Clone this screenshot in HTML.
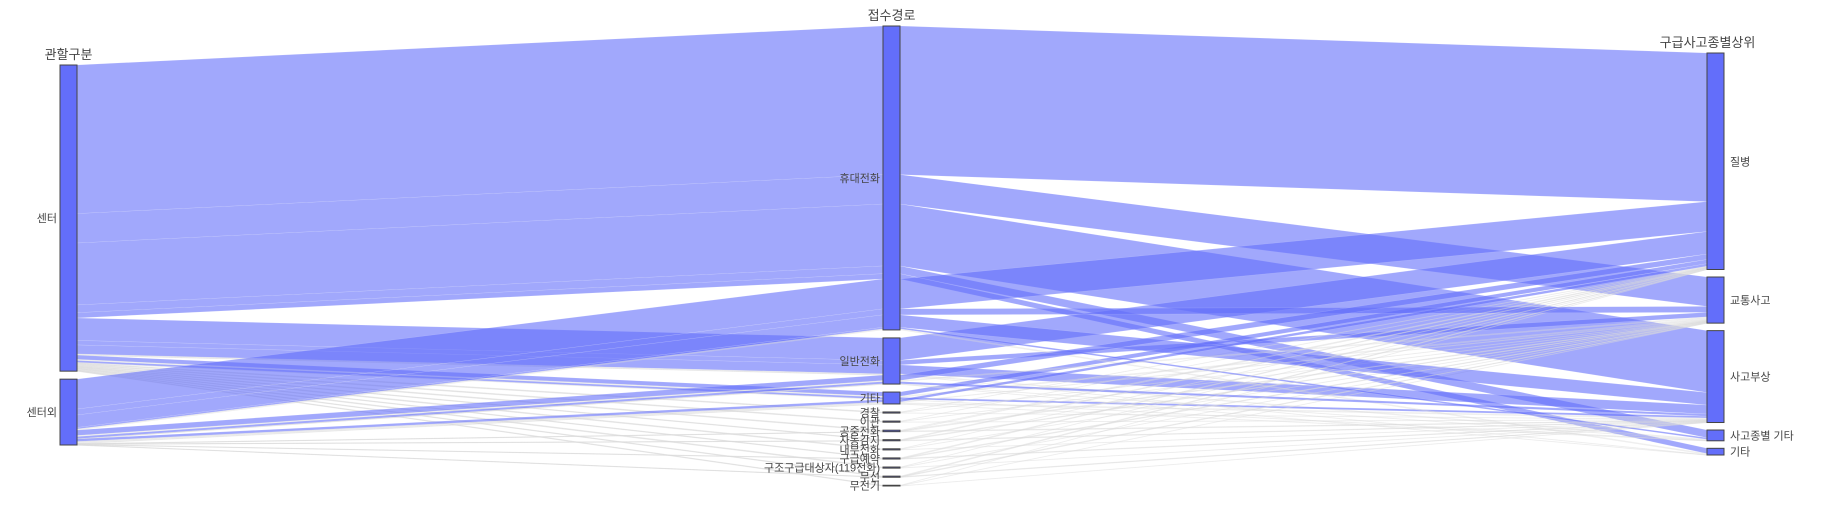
<!DOCTYPE html>
<html><head><meta charset="utf-8">
<style>
html,body{margin:0;padding:0;background:#fff;}
svg{display:block;font-family:"Liberation Sans","Noto Sans CJK KR",sans-serif;}
</style></head>
<body>
<svg id="chart" width="1835" height="528" viewBox="0 0 1835 528" xmlns="http://www.w3.org/2000/svg">
<g id="bands"></g>
<g id="bars"></g>
</svg>
<script>
// ---- data ----
const dimTitles = ["관할구분","접수경로","구급사고종별상위"];
const leftCats = ["센터","센터외"];
const midCats = ["휴대전화","일반전화","기타","경찰","이관","공중전화","자동감지","내부전화","구급예약","구조구급대상자(119전화)","무선","무전기"];
const rightCats = ["질병","교통사고","사고부상","사고종별 기타","기타"];
// flows left -> middle (rows: leftCats, cols: midCats)
const flowCenter =   [680,100,20,3,3,3,2,3,2,3,2,2];
const flowOutside =  [137,24,12,0,0,1,1,0,1,0,1,0];
// flows middle -> right (rows: midCats, cols: rightCats)
const flowPhone =    [480,95,200,25,17];
const flowLandline = [75,15,30,3,1];
const flowEtc =      [18,5,8,1,0];
const flowSmall =    [1,1,1,0,0];

const LM = [flowCenter, flowOutside];
const MR = [flowPhone, flowLandline, flowEtc].concat(midCats.slice(3).map(()=>flowSmall.slice()));
const midTot = midCats.map((c,m)=>LM[0][m]+LM[1][m]);
for(let m=0;m<midCats.length;m++){
  const s = MR[m].reduce((a,b)=>a+b,0);
  MR[m] = MR[m].map(v=>s? v*midTot[m]/s : 0);
}
// ---- layout ----
const SC = 0.372;
const dims = [
  {x:60, w:17, top:65, gap:8, cats:leftCats},
  {x:883, w:17, top:26, gap:8, cats:midCats},
  {x:1707, w:17, top:53, gap:7.5, cats:rightCats}
];
const paths=[];
for(let l=0;l<2;l++)for(let m=0;m<midCats.length;m++)for(let r=0;r<rightCats.length;r++){
  const v = midTot[m]? LM[l][m]*MR[m][r]/midTot[m]:0;
  if(v>0) paths.push({l,m,r,v});
}
const tot = [leftCats.map((c,i)=>paths.filter(p=>p.l===i).reduce((a,p)=>a+p.v,0)),
             midTot,
             rightCats.map((c,i)=>paths.filter(p=>p.r===i).reduce((a,p)=>a+p.v,0))];
const catY = dims.map((d,di)=>{let y=d.top;return tot[di].map(t=>{const o={y0:y,h:t*SC};y+=t*SC+d.gap;return o;});});
const NS="http://www.w3.org/2000/svg";
function el(t,a,p){const e=document.createElementNS(NS,t);for(const k in a)e.setAttribute(k,a[k]);p.appendChild(e);return e;}
function stack(list, catIdx, key, di, sortFn){
  const off={};
  list.slice().sort(sortFn).forEach(p=>{
    const c=p[catIdx]; off[c]=off[c]||0;
    p[key]=catY[di][c].y0+off[c]; off[c]+=p.v*SC;
  });
}
stack(paths,'l','yL',0,(a,b)=>a.m-b.m||a.r-b.r);
stack(paths,'m','yM',1,(a,b)=>a.l-b.l||a.r-b.r);
stack(paths,'r','yR',2,(a,b)=>a.m-b.m||a.l-b.l);
const bands=document.getElementById('bands');
function band(x1,y1,x2,y2,h,name){
  const small=h<1.2;
  const hh=Math.max(h,0.5);
  const p=el('path',{d:`M${x1},${y1}L${x2},${y2}L${x2},${y2+hh}L${x1},${y1+hh}Z`,
    fill: small?'rgba(215,215,215,0.35)':'rgba(99,110,250,0.6)',
    stroke: small?'rgba(220,220,220,0.45)':'rgba(255,255,255,0.25)','stroke-width':small?0.4:0.4},bands);
  
  
}
paths.forEach(p=>{
  band(dims[0].x+dims[0].w,p.yL,dims[1].x,p.yM,p.v*SC,'band-'+leftCats[p.l]+'-'+midCats[p.m]);
  band(dims[1].x+dims[1].w,p.yM,dims[2].x,p.yR,p.v*SC,'band-'+midCats[p.m]+'-'+rightCats[p.r]);
});
const bars=document.getElementById('bars');
dims.forEach((d,di)=>{
  const t=el('text',{x:d.x+d.w/2+(di==2?-8:0),y:d.top-6,'text-anchor':'middle','font-size':13,fill:'#444'},bars);
  t.textContent=dimTitles[di];
  
  
  d.cats.forEach((c,ci)=>{
    const cy=catY[di][ci];
    const r=el('rect',{x:d.x,y:cy.y0,width:d.w,height:Math.max(cy.h,0.5),fill:'#636efa',stroke:'#444','stroke-width':1},bars);
    
    
    const lx = di==2? d.x+d.w+6 : d.x-3;
    const lb=el('text',{x:lx,y:cy.y0+cy.h/2+4,'text-anchor':di==2?'start':'end','font-size':11,fill:'#444'},bars);
    lb.textContent=c;
    
    
  });
});
</script>
</body></html>
